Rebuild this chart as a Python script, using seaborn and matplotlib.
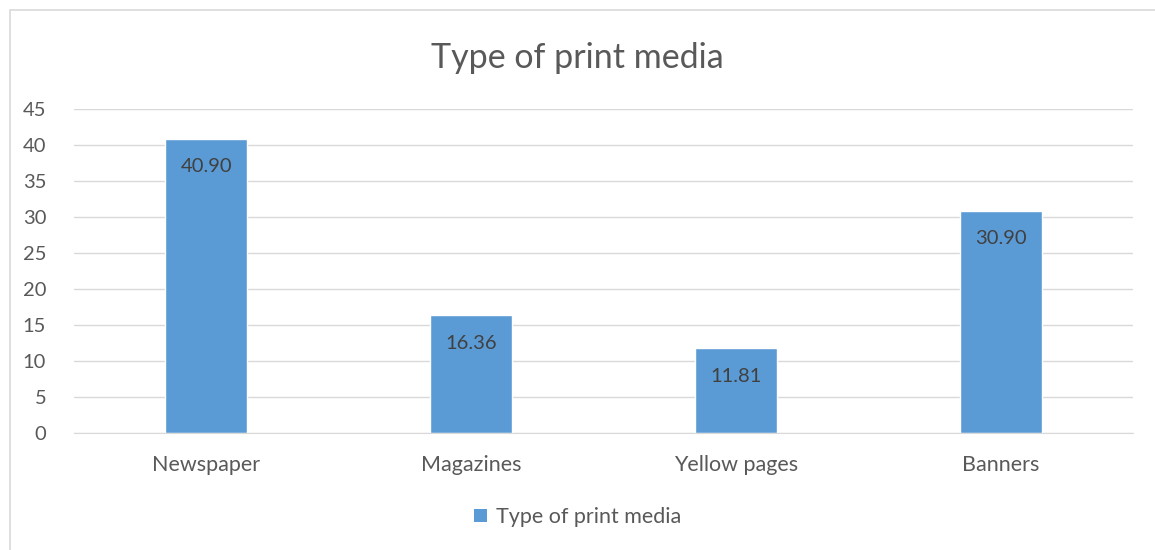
import pandas as pd
import matplotlib
matplotlib.use("Agg")
import matplotlib.pyplot as plt
import seaborn as sns
from matplotlib.patches import Rectangle, Patch

categories = ["Newspaper", "Magazines", "Yellow pages", "Banners"]
values = [40.90, 16.36, 11.81, 30.90]
labels = ["40.90", "16.36", "11.81", "30.90"]
series_name = "Type of print media"

df = pd.DataFrame({"Media": categories, "Value": values})

sns.set_style("white")
plt.rcParams["font.family"] = ["Lato", "DejaVu Sans"]

fig = plt.figure(figsize=(11.55, 5.5), dpi=100)
ax = fig.add_axes([0.064, 0.2127, 0.917, 0.5891])

sns.barplot(data=df, x="Media", y="Value", color="#5B9BD5", width=0.31, ax=ax, saturation=1)

ax.set_ylim(0, 45)
ax.set_yticks(range(0, 46, 5))
ax.set_xlim(-0.5, 3.5)
ax.yaxis.grid(True, color="#D9D9D9", linewidth=1)
ax.set_axisbelow(True)
for s in ["top", "right", "left"]:
    ax.spines[s].set_visible(False)
ax.spines["bottom"].set_color("#D9D9D9")
ax.tick_params(axis="both", length=0, colors="#595959")
ax.tick_params(axis="x", pad=16, labelsize=15.5)
ax.tick_params(axis="y", pad=20, labelsize=14.5)
ax.set_xlabel("")
ax.set_ylabel("")

# value labels just inside the top of each bar
for i, (v, lab) in enumerate(zip(values, labels)):
    ax.text(i, v - 3.9, lab, ha="center", va="center", fontsize=14.5, color="#404040")

fig.text(0.5, 0.895, series_name, ha="center", va="center", fontsize=24.5, color="#595959")

handle = Patch(facecolor="#5B9BD5", edgecolor="none")
fig.legend([handle], [series_name], loc="center", bbox_to_anchor=(0.5, 0.06),
           frameon=False, fontsize=15.5, labelcolor="#595959",
           handlelength=0.6, handleheight=0.6, handletextpad=0.4)

fig.patches.append(Rectangle((10 / 1155, -0.1), 1.2, 1 - 10 / 550 + 0.1,
                             transform=fig.transFigure, fill=False,
                             edgecolor="#D9D9D9", linewidth=1.2))

fig.savefig("out.png", dpi=100)
